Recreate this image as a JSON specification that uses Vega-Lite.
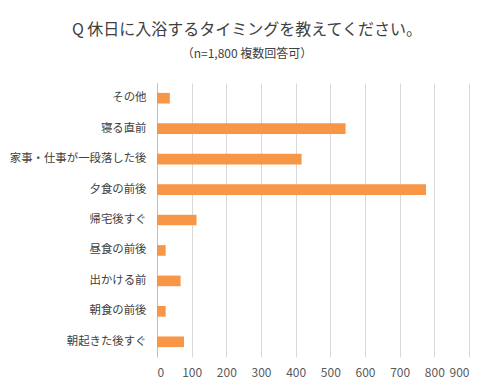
{
  "$schema": "https://vega.github.io/schema/vega-lite/v6.json",
  "autosize": {"type": "none"},
  "width": 312,
  "height": 274,
  "padding": {"left": 157, "top": 83, "right": 26, "bottom": 34},
  "background": "white",
  "title": {
    "text": "Q 休日に入浴するタイミングを教えてください。",
    "subtitle": "（n=1,800 複数回答可）",
    "anchor": "middle",
    "dx": -66,
    "offset": 23,
    "font": "Noto Sans CJK JP",
    "fontSize": 16,
    "fontWeight": "normal",
    "color": "#404040",
    "subtitleFont": "Noto Sans CJK JP",
    "subtitleFontSize": 12,
    "subtitleColor": "#404040",
    "subtitlePadding": 11
  },
  "data": {
    "values": [
      {"item": "その他", "count": 37},
      {"item": "寝る直前", "count": 544},
      {"item": "家事・仕事が一段落した後", "count": 417},
      {"item": "夕食の前後", "count": 776},
      {"item": "帰宅後すぐ", "count": 114},
      {"item": "昼食の前後", "count": 25},
      {"item": "出かける前", "count": 68},
      {"item": "朝食の前後", "count": 25},
      {"item": "朝起きた後すぐ", "count": 78}
    ]
  },
  "mark": {"type": "bar", "color": "#F79646"},
  "encoding": {
    "y": {
      "field": "item",
      "type": "nominal",
      "sort": null,
      "scale": {"paddingInner": 0.65, "paddingOuter": 0.325},
      "axis": {
        "title": null,
        "ticks": false,
        "domainColor": "#bfbfbf",
        "labelPadding": 11,
        "labelFont": "Noto Sans CJK JP",
        "labelFontSize": 11.4,
        "labelColor": "#404040"
      }
    },
    "x": {
      "field": "count",
      "type": "quantitative",
      "scale": {"domain": [0, 900], "nice": false},
      "axis": {
        "title": null,
        "values": [0, 100, 200, 300, 400, 500, 600, 700, 800, 900],
        "domain": false,
        "ticks": false,
        "gridColor": "#d9d9d9",
        "labelPadding": 10,
        "labelFont": "Noto Sans CJK JP",
        "labelFontSize": 12,
        "labelColor": "#595959"
      }
    }
  },
  "config": {"view": {"stroke": null}}
}
